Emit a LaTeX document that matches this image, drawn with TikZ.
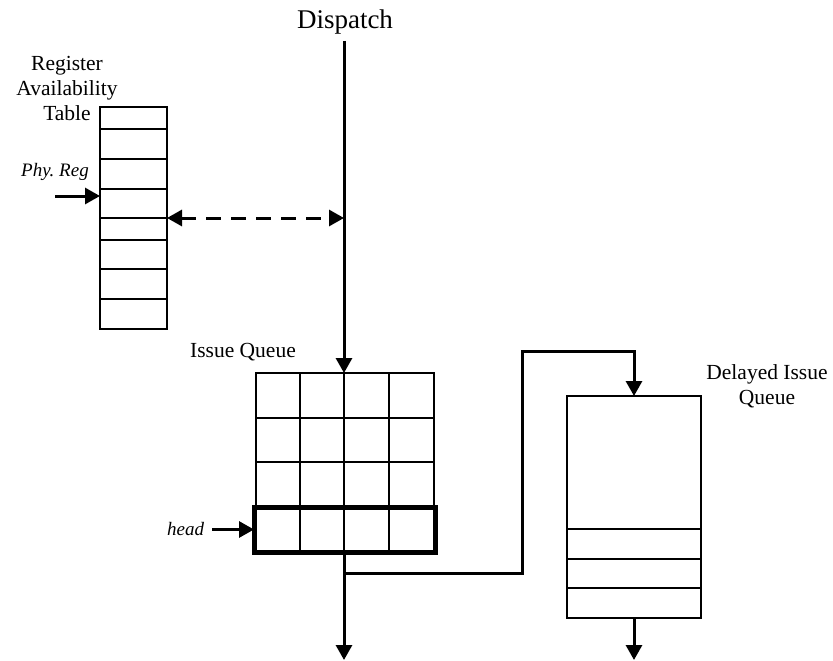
\documentclass[tikz,border=0pt]{standalone}
\usepackage{fontspec}
\setmainfont{Liberation Serif}
\usetikzlibrary{arrows.meta,positioning}

\begin{document}
\begin{tikzpicture}[x=1pt,y=-1pt,
  cell/.style={draw,line width=1.3pt,inner sep=0pt,outer sep=0pt,anchor=north west},
  flow/.style={line width=3pt,-{Triangle[length=15pt,width=16pt]}},
  dflow/.style={line width=3pt,dash pattern=on 15pt off 10pt,
    {Triangle[length=15pt,width=16pt]}-{Triangle[length=15pt,width=16pt]}},
  lbl/.style={font=\fontsize{21.5}{25}\selectfont,align=center},
  tag/.style={font=\fontsize{19}{22}\selectfont\itshape}]
  \useasboundingbox (0,0) rectangle (833,661);
  % register availability table
  \node[cell,minimum width=67pt,minimum height=222pt] (rat) at (100,107) {};
  \foreach \yy in {129,159,189,218,240,269,299}
    \draw[line width=1.3pt] (100,\yy) -- (167,\yy);
  \node[lbl] (ratlbl) at (67,88) {Register\\Availability\\Table};
  \node[tag] (phy) at (55,172) {Phy.\ Reg};
  \coordinate (pr) at (55,196);
  \draw[flow] (pr) -- (pr -| rat.west);
  % dispatch
  \node[font=\fontsize{27}{30}\selectfont] (disp) at (345,22) {Dispatch};
  \coordinate (d0) at (344,41);
  \coordinate (tap) at (344,218);
  \draw[dflow] (rat.east) -- (tap);
  % issue queue
  \node[cell,minimum width=178pt,minimum height=179pt] (iq) at (256,373) {};
  \foreach \xx in {300,344,389}
    \draw[line width=1.3pt] (\xx,373) -- (\xx,552);
  \foreach \yy in {418,462}
    \draw[line width=1.3pt] (256,\yy) -- (434,\yy);
  \node[draw,line width=5pt,inner sep=0pt,outer sep=0pt,anchor=north west,
    minimum width=181pt,minimum height=45pt] (hd) at (254,507) {};
  \node[lbl] (iqlbl) at (243,352) {Issue Queue};
  \node[tag,anchor=east,inner sep=0pt,outer sep=0pt] (headlbl) at (204,529.5) {head};
  \draw[flow] (d0) -- (d0 |- iq.north);
  \draw[flow] ([xshift=8pt]headlbl.east) -- (hd.west);
  \coordinate (iqout) at (344,660);
  \draw[flow] (d0 |- hd.south) -- (iqout);
  % delayed issue queue
  \node[cell,minimum width=134pt,minimum height=222pt] (diq) at (567,396) {};
  \foreach \yy in {529,559,588}
    \draw[line width=1.3pt] (567,\yy) -- (701,\yy);
  \node[lbl] (diqlbl) at (767,386) {Delayed Issue\\Queue};
  \coordinate (br) at (344,573);
  \draw[flow] (br) -| (522,351) -| (diq.north);
  \coordinate (diqout) at (634,660);
  \draw[flow] (diq.south) -- (diqout);
\end{tikzpicture}
\end{document}
